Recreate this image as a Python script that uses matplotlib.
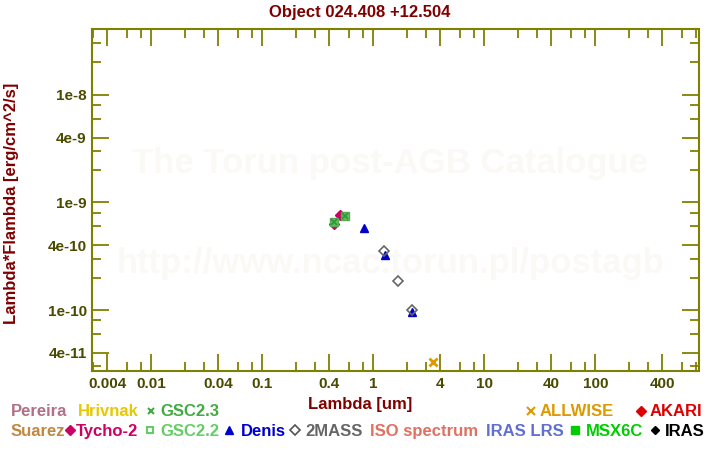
import matplotlib
matplotlib.use("Agg")
import matplotlib.pyplot as plt
from matplotlib.lines import Line2D
from matplotlib.ticker import FixedLocator, NullFormatter

plt.rcParams['font.family'] = ['Liberation Sans', 'DejaVu Sans']
plt.rcParams['font.weight'] = 'bold'

# ---- data ----
tycho_x = [0.50, 0.443]
tycho_y = [7.63e-10, 6.25e-10]
gsc22_x = [0.558, 0.443]
gsc22_y = [7.47e-10, 6.61e-10]
gsc23_x = [0.558, 0.443]
gsc23_y = [7.47e-10, 6.61e-10]
denis_x = [0.824, 1.27, 2.21]
denis_y = [5.81e-10, 3.24e-10, 0.964e-10]
mass_x = [1.257, 1.68, 2.21]
mass_y = [3.53e-10, 1.85e-10, 1.0e-10]
allwise_x = [3.42]
allwise_y = [3.27e-11]

x_major = [0.004, 0.01, 0.04, 0.1, 0.4, 1, 4, 10, 40, 100, 400]
x_major_labels = ['0.004', '0.01', '0.04', '0.1', '0.4', '1', '4', '10', '40', '100', '400']
y_major = [4e-11, 1e-10, 4e-10, 1e-9, 4e-9, 1e-8]
y_major_labels = ['4e-11', '1e-10', '4e-10', '1e-9', '4e-9', '1e-8']

W, H = 720, 450
fig = plt.figure(figsize=(7.2, 4.5), dpi=100)
L, R, T, B = 92.3, 699.3, 29.3, 371.3
ax = fig.add_axes([L / W, 1 - B / H, (R - L) / W, (B - T) / H])
ax.set_xscale('log')
ax.set_yscale('log')
ax.set_xlim(0.00293, 864)
ax.set_ylim(2.696e-11, 4.05e-8)

axc = '#808000'
lblc = '#4a4a00'
for s in ax.spines.values():
    s.set_color(axc)
    s.set_linewidth(1.5)

def minors(lo, hi):
    out = []
    e = lo
    while e <= hi:
        for m in (2, 3, 6, 8):
            out.append(m * 10.0 ** e)
        e += 1
    return out

ax.xaxis.set_major_locator(FixedLocator(x_major))
ax.xaxis.set_minor_locator(FixedLocator(minors(-3, 2)))
ax.yaxis.set_major_locator(FixedLocator(y_major))
ax.yaxis.set_minor_locator(FixedLocator(minors(-11, -8)))
ax.set_xticklabels(x_major_labels)
ax.set_yticklabels(y_major_labels)
ax.xaxis.set_minor_formatter(NullFormatter())
ax.yaxis.set_minor_formatter(NullFormatter())
ax.tick_params(which='both', direction='in', top=True, right=True, color=axc, width=1.3,
               labelcolor=lblc, labelsize=11)
ax.tick_params(which='major', length=12.5, pad=4)
ax.tick_params(which='minor', length=6.8)
for t in ax.get_xticklabels() + ax.get_yticklabels():
    t.set_fontweight('bold')

# watermark
ax.text(389.5 / W, 1 - 163 / H, 'The Torun post-AGB Catalogue', transform=fig.transFigure,
        ha='center', va='center', fontsize=25, color='#fbf9f5', fontweight='bold', zorder=0)
ax.text(391 / W, 1 - 263 / H, 'http://www.ncac.torun.pl/postagb', transform=fig.transFigure,
        ha='center', va='center', fontsize=25, color='#fbf9f5', fontweight='bold', zorder=0)

# data marks
ax.plot(tycho_x, tycho_y, 'D', ms=5.5, color='#cc0066', mec='#cc0066', ls='none', zorder=3)
ax.plot(gsc22_x, gsc22_y, 's', ms=6, color='#66bb66', mec='#55aa55', ls='none', zorder=4)
ax.plot(gsc23_x, gsc23_y, 'x', ms=5, color='#339933', mew=1.3, ls='none', zorder=5)
ax.plot(denis_x, denis_y, '^', ms=5.8, color='#0000cc', mec='#0000cc', ls='none', zorder=3)
ax.plot(mass_x, mass_y, 'D', ms=5.5, mfc='none', mec='#666666', mew=1.2, ls='none', zorder=4)
ax.plot(allwise_x, allwise_y, 'x', ms=5.5, color='#dd9900', mew=2, ls='none', zorder=4)

# titles
fig.text(360 / W, 1 - 12 / H, 'Object 024.408 +12.504', ha='center', va='center',
         fontsize=12, color='#800000', fontweight='bold')
fig.text(360 / W, 1 - 404 / H, 'Lambda [um]', ha='center', va='center',
         fontsize=12, color='#800000', fontweight='bold')
fig.text(12 / W, 1 - 203 / H, 'Lambda*Flambda [erg/cm^2/s]', ha='center', va='center',
         rotation=90, fontsize=12, color='#800000', fontweight='bold')

# legend
r1b, r2b = 416.5, 436
r1m, r2m = 410.5, 430
def lt(x, yb, s, c):
    fig.text(x / W, 1 - yb / H, s, ha='left', va='baseline', fontsize=12, color=c,
             fontweight='bold')
def lm(x, y, m, c, **kw):
    fig.add_artist(Line2D([x / W], [1 - y / H], marker=m, color=c, ls='none',
                          transform=fig.transFigure, **kw))

lt(10.7, r1b, 'Pereira', '#b07088')
lt(78, r1b, 'Hrivnak', '#e8c800')
lm(150.7, r1m, 'x', '#44aa44', ms=5, mew=1.5)
lt(160.7, r1b, 'GSC2.3', '#44aa44')
lm(530.7, r1m, 'x', '#dd9900', ms=6, mew=1.5)
lt(540, r1b, 'ALLWISE', '#dd9900')
lm(641, r1m, 'D', '#dd0000', ms=5)
lt(650, r1b, 'AKARI', '#dd0000')

lt(10.7, r2b, 'Suarez', '#c08840')
lm(70, r2m, 'D', '#cc0066', ms=5)
lt(76, r2b, 'Tycho-2', '#cc0066')
lm(150, r2m, 's', '#66cc66', ms=5, mfc='none', mew=1.5)
lt(160.7, r2b, 'GSC2.2', '#66cc66')
lm(229.3, r2m, '^', '#0000cc', ms=5.5)
lt(240.7, r2b, 'Denis', '#0000cc')
lm(295, r2m, 'D', '#555555', ms=5, mfc='none', mew=1.2)
lt(305, r2b, '2MASS', '#666666')
lt(370, r2b, 'ISO spectrum', '#e07060')
lt(485.7, r2b, 'IRAS LRS', '#6070d0')
lm(575, r2m, 's', '#00cc00', ms=5.5)
lt(585.7, r2b, 'MSX6C', '#00cc00')
lm(654.7, r2m, 'D', '#000000', ms=4.5)
lt(665, r2b, 'IRAS', '#000000')

fig.savefig('out.png', dpi=100)
